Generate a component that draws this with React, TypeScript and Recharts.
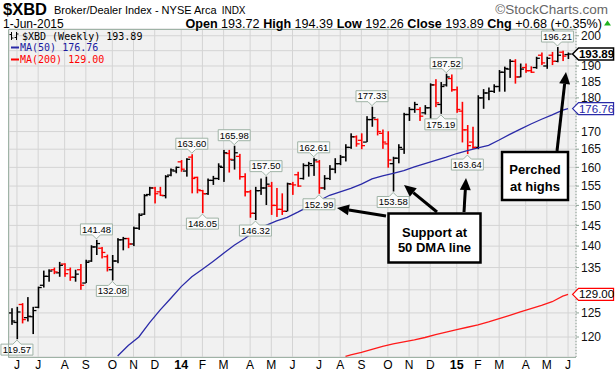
import React from 'react';
import { ComposedChart, Bar, Line, XAxis, YAxis, CartesianGrid } from 'recharts';

// ---- data (weekly bars, index 0 = week of 27-May-2013, last = week of 1-Jun-2015) ----
const opens = [
  125.0, 123.0, 126.8, 124.0, 124.2, 126.2, 131.0, 133.0, 134.5, 133.8,
  135.8, 134.5, 132.8, 134.5, 131.5, 136.5, 139.8, 139.5, 137.5, 134.5,
  136.5, 141.5, 141.8, 140.5, 144.3, 147.8, 152.8, 154.5, 153.5, 152.5,
  157.9, 159.0, 161.5, 159.0, 162.8, 157.3, 153.8, 153.0, 156.5, 157.0,
  160.0, 163.8, 162.0, 163.0, 157.5, 153.5, 148.0, 153.8, 154.5, 155.0,
  150.0, 149.0, 148.5, 155.5, 158.0, 157.0, 160.5, 160.5, 161.5, 154.5,
  157.0, 159.5, 161.0, 162.8, 165.5, 168.5, 167.5, 167.0, 173.5, 173.5,
  169.5, 166.5, 161.0, 162.5, 165.0, 175.0, 176.5, 176.5, 175.5, 177.0,
  184.0, 178.0, 184.0, 186.0, 182.5, 176.0, 170.5, 167.0, 165.5, 180.0,
  181.5, 182.0, 183.5, 188.0, 189.0, 191.5, 186.5, 189.5, 188.5, 189.5,
  193.5, 190.0, 193.5, 191.5, 194.5, 193.72,
];
const highs = [
  126.0, 126.3, 127.1, 128.4, 126.3, 130.7, 134.3, 134.6, 135.0, 136.3,
  136.0, 135.0, 134.5, 135.8, 136.8, 140.2, 141.48, 139.8, 138.0, 137.9,
  141.9, 142.2, 142.0, 144.7, 148.0, 152.9, 154.8, 154.8, 154.8, 157.9,
  159.7, 160.2, 162.0, 162.5, 163.6, 157.5, 154.0, 157.0, 157.7, 161.1,
  164.8, 164.8, 165.98, 163.7, 158.4, 154.0, 154.8, 157.0, 157.5, 156.1,
  154.5, 153.1, 155.9, 156.1, 158.8, 161.1, 161.5, 162.61, 162.0, 157.9,
  160.6, 162.5, 163.4, 166.4, 169.5, 168.9, 169.5, 174.5, 177.33, 173.8,
  170.6, 170.1, 162.9, 166.4, 175.5, 177.2, 178.8, 177.2, 177.8, 184.5,
  185.8, 184.9, 187.52, 187.3, 183.5, 178.8, 171.9, 171.4, 180.8, 182.7,
  183.2, 184.2, 188.7, 189.8, 192.2, 192.2, 190.8, 190.8, 189.9, 193.0,
  194.4, 193.0, 194.6, 196.21, 195.0, 194.39,
];
const lows = [
  122.5, 119.57, 122.8, 123.2, 120.6, 126.0, 130.5, 131.8, 133.5, 132.9,
  132.9, 132.0, 131.8, 130.0, 131.5, 136.3, 137.9, 137.1, 134.1, 132.08,
  136.0, 139.0, 139.5, 140.0, 143.9, 147.6, 152.5, 150.5, 152.4, 151.8,
  157.6, 158.4, 158.8, 157.5, 153.1, 153.1, 148.05, 152.7, 155.3, 156.6,
  156.1, 158.6, 159.4, 156.7, 152.3, 146.9, 146.32, 152.7, 150.1, 147.6,
  147.1, 147.6, 148.5, 152.7, 154.8, 156.7, 157.5, 157.7, 152.99, 154.0,
  156.6, 158.4, 160.6, 161.6, 165.1, 165.7, 165.0, 167.0, 171.4, 168.9,
  165.1, 159.9, 153.58, 161.1, 163.7, 173.1, 175.5, 173.1, 175.0, 173.1,
  177.2, 175.19, 183.5, 181.9, 175.5, 166.9, 163.64, 165.1, 165.0, 176.7,
  179.3, 181.5, 181.9, 181.9, 186.2, 184.4, 186.4, 187.8, 187.8, 189.1,
  190.3, 189.1, 190.3, 191.2, 191.6, 192.26,
];
const closes = [
  123.3, 125.2, 123.6, 124.3, 125.5, 130.5, 133.0, 134.2, 134.0, 135.5,
  133.6, 132.8, 133.5, 131.0, 136.2, 139.8, 140.6, 138.5, 135.0, 136.5,
  141.5, 141.8, 140.5, 144.3, 147.5, 152.5, 154.5, 153.0, 152.6, 157.5,
  159.3, 160.0, 159.5, 162.2, 157.0, 154.0, 153.0, 156.5, 157.0, 160.3,
  164.0, 162.2, 164.0, 157.5, 153.5, 148.0, 153.8, 154.5, 155.5, 150.0,
  149.0, 148.5, 155.6, 155.3, 155.0, 160.5, 161.0, 162.0, 154.5, 157.0,
  159.5, 161.0, 162.8, 165.5, 168.5, 166.5, 166.0, 173.5, 174.0, 170.0,
  167.0, 162.0, 162.5, 165.5, 175.0, 176.5, 178.0, 174.5, 177.0, 184.0,
  178.5, 183.5, 186.5, 182.5, 176.5, 170.5, 166.0, 165.5, 180.0, 181.5,
  182.0, 183.5, 188.0, 189.2, 191.5, 186.5, 189.0, 188.5, 188.0, 192.5,
  191.0, 192.5, 191.5, 193.5, 193.21, 193.89,
];

const monthTicks = [1, 5, 10, 14, 19, 23, 27, 32, 36, 40, 45, 49, 53, 58, 62, 66, 71, 75, 79, 84, 88, 92, 97, 101, 105];
const monthLabels = ['J', 'J', 'A', 'S', 'O', 'N', 'D', '14', 'F', 'M', 'A', 'M', 'J', 'J', 'A', 'S', 'O', 'N', 'D', '15', 'F', 'M', 'A', 'M', 'J'];
const priceTicks = [120, 125, 130, 135, 140, 145, 150, 155, 160, 165, 170, 175, 180, 185, 190, 195, 200];

const highLabelWeeks = [16, 34, 42, 48, 57, 68, 82, 103];
const lowLabelWeeks = [1, 19, 36, 46, 58, 72, 81, 86];

const ma50Weeks = [20, 22, 24, 26, 28, 30, 32, 34, 36, 38, 40, 42, 44, 46, 48, 50, 52, 54, 56, 58, 60, 62, 64, 66, 68, 70, 72, 74, 76, 78, 80, 82, 84, 86, 88, 90, 92, 94, 96, 98, 100, 102, 104, 105];
const ma50Values = [116.2, 118.3, 120.0, 122.9, 125.6, 128.1, 130.7, 132.9, 134.6, 136.4, 138.3, 140.2, 141.8, 143.7, 145.0, 146.1, 147.0, 148.3, 149.7, 151.2, 152.6, 153.5, 154.4, 155.5, 156.9, 157.7, 158.4, 159.1, 160.1, 161.0, 161.9, 162.8, 163.8, 164.6, 165.4, 166.1, 167.6, 169.2, 170.7, 172.2, 173.6, 174.9, 176.3, 176.76];

const ma200Weeks = [63, 64, 66, 68, 70, 72, 74, 76, 78, 80, 82, 84, 86, 88, 90, 92, 94, 96, 98, 100, 102, 104, 105];
const ma200Values = [116.1, 116.4, 116.9, 117.5, 118.1, 118.6, 119.0, 119.4, 119.9, 120.5, 121.0, 121.5, 122.0, 122.5, 123.1, 123.8, 124.5, 125.2, 125.9, 126.6, 127.4, 128.6, 129.0];

const lastIndex = closes.length - 1;
const tagValues = [closes[lastIndex], ma50Values[ma50Values.length - 1], ma200Values[ma200Values.length - 1]];

const data = opens.map((o, i) => ({
  x: i,
  o,
  h: highs[i],
  l: lows[i],
  c: closes[i],
  range: [lows[i], highs[i]],
  up: i === 0 || closes[i] >= closes[i - 1],
  hiLab: highLabelWeeks.includes(i) ? highs[i] : null,
  loLab: lowLabelWeeks.includes(i) ? lows[i] : null,
  ma50: ma50Weeks.includes(i) ? ma50Values[ma50Weeks.indexOf(i)] : null,
  ma200: ma200Weeks.includes(i) ? ma200Values[ma200Weeks.indexOf(i)] : null,
  last: i === lastIndex ? closes[i] : null,
}));

// ---- styles ----
const SANS = '"Liberation Sans", Arial, sans-serif';
const MONO = '"DejaVu Sans Mono", monospace';
const UP = '#000000';
const DOWN = '#ff0000';
const MA50C = '#2a2aa8';
const MA200C = '#ff1a1a';
const LABEL_BORDER = '#9fb3a6';

const OhlcShape = (p: any) => {
  const { x, y, width, height, payload } = p;
  if (x == null || y == null) return <g />;
  const cx = x + width / 2;
  return <rect x={cx - 0.8} y={y} width={1.6} height={Math.max(height, 1)} fill={payload.up ? UP : DOWN} />;
};

const openTick = (p: any) => {
  const { cx, cy, payload, index } = p;
  if (cx == null || cy == null) return <g key={`o${index}`} />;
  return <line key={`o${index}`} x1={cx - 3.6} x2={cx} y1={cy} y2={cy} stroke={payload.up ? UP : DOWN} strokeWidth={1.3} />;
};
const closeTick = (p: any) => {
  const { cx, cy, payload, index } = p;
  if (cx == null || cy == null) return <g key={`c${index}`} />;
  return <line key={`c${index}`} x1={cx} x2={cx + 3.6} y1={cy} y2={cy} stroke={payload.up ? UP : DOWN} strokeWidth={1.3} />;
};

const BW = 32;
const BH = 11;
const hiLabel = (p: any) => {
  const { cx, cy, payload, index } = p;
  if (payload.hiLab == null || cx == null || cy == null) return <g key={`h${index}`} />;
  const tipY = cy - 1;
  const bottom = tipY - 4;
  const top = bottom - BH;
  const d = `M${cx - BW / 2},${top} H${cx + BW / 2} V${bottom} H${cx + 4} L${cx},${tipY} L${cx - 4},${bottom} H${cx - BW / 2} Z`;
  return (
    <g key={`h${index}`}>
      <path d={d} fill="#fbfbfb" stroke={LABEL_BORDER} strokeWidth={1} />
      <text x={cx} y={top + 8.8} textAnchor="middle" fontSize={9.5} fontFamily={SANS} fill="#000">{payload.hiLab.toFixed(2)}</text>
    </g>
  );
};
const loLabel = (p: any) => {
  const { cx, cy, payload, index } = p;
  if (payload.loLab == null || cx == null || cy == null) return <g key={`l${index}`} />;
  const tipY = cy + 1;
  const top = tipY + 4;
  const bottom = top + BH;
  const d = `M${cx - BW / 2},${top} H${cx - 4} L${cx},${tipY} L${cx + 4},${top} H${cx + BW / 2} V${bottom} H${cx - BW / 2} Z`;
  return (
    <g key={`l${index}`}>
      <path d={d} fill="#fbfbfb" stroke={LABEL_BORDER} strokeWidth={1} />
      <text x={cx} y={top + 8.8} textAnchor="middle" fontSize={9.5} fontFamily={SANS} fill="#000">{payload.loLab.toFixed(2)}</text>
    </g>
  );
};

const makeTag = (field: string, border: string, textColor: string, bold: boolean, sw: number) => (p: any) => {
  const { cx, cy, payload, index } = p;
  if (payload[field] == null || index !== lastIndex || cx == null || cy == null) return <g key={`${field}${index}`} />;
  const tip = cx + 4.5;
  const d = `M${tip},${cy} L${tip + 6},${cy - 6} H${tip + 41} V${cy + 6} H${tip + 6} Z`;
  return (
    <g key={`${field}${index}`}>
      <path d={d} fill="#ffffff" stroke={border} strokeWidth={sw} />
      <text x={tip + 24} y={cy + 4} textAnchor="middle" fontSize={11.5} fontWeight={bold ? 'bold' : 'normal'} fontFamily={SANS} fill={textColor}>
        {payload[field].toFixed(2)}
      </text>
    </g>
  );
};
const priceTag = makeTag('last', '#000', '#000', true, 1.5);
const ma50Tag = makeTag('ma50', MA50C, MA50C, false, 1.2);
const ma200Tag = makeTag('ma200', '#ff0000', '#000', false, 1.2);

const XTick = (p: any) => {
  const v = p.payload.value;
  const lab = monthLabels[monthTicks.indexOf(v)];
  const bold = /\d/.test(lab);
  return (
    <text x={p.x} y={p.y + 4} textAnchor="middle" fontSize={bold ? 12.5 : 12} fontWeight={bold ? 'bold' : 'normal'} fontFamily={SANS} fill="#000">
      {lab}
    </text>
  );
};
const YTick = (p: any) => {
  const v = p.payload.value;
  // a value tag sits over this tick label: leave it hidden under the tag
  const covered = tagValues.some((t) => Math.abs(Math.log(v / t)) < 0.012);
  if (covered) return <g />;
  return (
    <text x={p.x} y={p.y + 4.3} textAnchor="start" fontSize={12} fontFamily={SANS} fill="#111">
      {v}
    </text>
  );
};

const Arrow = ({ x1, y1, x2, y2 }: { x1: number; y1: number; x2: number; y2: number }) => {
  const dx = x2 - x1;
  const dy = y2 - y1;
  const len = Math.sqrt(dx * dx + dy * dy);
  const ux = dx / len;
  const uy = dy / len;
  const bx = x2 - ux * 12;
  const by = y2 - uy * 12;
  const nx = -uy;
  const ny = ux;
  return (
    <g>
      <line x1={x1} y1={y1} x2={bx} y2={by} stroke="#000" strokeWidth={3} />
      <polygon points={`${x2},${y2} ${bx + nx * 5.5},${by + ny * 5.5} ${bx - nx * 5.5},${by - ny * 5.5}`} fill="#000" />
    </g>
  );
};

export default function App() {
  return (
    <div style={{ position: 'absolute', left: 0, top: 0, width: 615, height: 375, background: '#fff' }}>
      <ComposedChart width={615} height={375} data={data} margin={{ top: 29, right: 0, bottom: 0, left: 9 }}>
        <CartesianGrid stroke="#d4d4d4" fill="#f1f1f1" />
        <XAxis
          dataKey="x"
          type="number"
          domain={[-0.5, 106.5]}
          ticks={monthTicks}
          interval={0}
          tick={XTick}
          tickLine={false}
          axisLine={false}
          height={18}
        />
        <YAxis
          orientation="right"
          type="number"
          scale="log"
          domain={[116, 202.3]}
          ticks={priceTicks}
          interval={0}
          tick={YTick}
          width={39}
          tickSize={3}
          tickMargin={2}
          tickLine={{ stroke: '#8fa497' }}
          axisLine={{ stroke: '#8fa497', strokeDasharray: '1 2' }}
        />
        <Line dataKey="ma200" stroke={MA200C} strokeWidth={1.3} dot={false} activeDot={false} connectNulls isAnimationActive={false} />
        <Line dataKey="ma50" stroke={MA50C} strokeWidth={1.3} dot={false} activeDot={false} connectNulls isAnimationActive={false} />
        <Bar dataKey="range" shape={OhlcShape} barSize={2} isAnimationActive={false} />
        <Line dataKey="o" stroke="none" dot={openTick} activeDot={false} isAnimationActive={false} />
        <Line dataKey="c" stroke="none" dot={closeTick} activeDot={false} isAnimationActive={false} />
        <Line dataKey="hiLab" stroke="none" dot={hiLabel} activeDot={false} isAnimationActive={false} />
        <Line dataKey="loLab" stroke="none" dot={loLabel} activeDot={false} isAnimationActive={false} />
        <Line dataKey="ma50" stroke="none" dot={ma50Tag} activeDot={false} connectNulls isAnimationActive={false} />
        <Line dataKey="ma200" stroke="none" dot={ma200Tag} activeDot={false} connectNulls isAnimationActive={false} />
        <Line dataKey="last" stroke="none" dot={priceTag} activeDot={false} isAnimationActive={false} />
      </ComposedChart>

      <svg width={615} height={375} style={{ position: 'absolute', left: 0, top: 0, pointerEvents: 'none' }}>
        {/* plot frame */}
        <path d="M576,29.5 H8.5 V357.5 H576" fill="none" stroke="#9fb3a6" strokeWidth={1} />

        {/* header */}
        <text x={3} y={14.5} fontSize={16.5} fontWeight="bold" fontFamily={SANS} fill="#000">$XBD</text>
        <text x={54} y={14} fontSize={11} fontFamily={SANS} fill="#000">
          Broker/Dealer Index - NYSE Arca<tspan dx={5} fontSize={10}>INDX</tspan>
        </text>
        <text x={608} y={13.5} textAnchor="end" fontSize={13.5} fontFamily={SANS} fill="#666">©StockCharts.com</text>
        <text x={3} y={27.5} fontSize={12} fontFamily={SANS} fill="#000">1-Jun-2015</text>
        <text x={602} y={27.5} textAnchor="end" fontSize={12.6} fontFamily={SANS} fill="#000">
          <tspan fontWeight="bold">Open</tspan> 193.72 <tspan fontWeight="bold">High</tspan> 194.39 <tspan fontWeight="bold">Low</tspan> 192.26{' '}
          <tspan fontWeight="bold">Close</tspan> 193.89 <tspan fontWeight="bold">Chg</tspan> +0.68 (+0.35%)
        </text>
        <polygon points="604,25.5 611,25.5 607.5,20.5" fill="#1fb31f" />

        {/* legend */}
        <g stroke="#000" strokeWidth={1}>
          <line x1={11.5} y1={32} x2={11.5} y2={40} />
          <line x1={9.5} y1={34.5} x2={11.5} y2={34.5} />
          <line x1={11.5} y1={38} x2={13.5} y2={38} />
          <line x1={16.5} y1={32} x2={16.5} y2={40} />
          <line x1={14.5} y1={37.5} x2={16.5} y2={37.5} />
          <line x1={16.5} y1={34} x2={18.5} y2={34} />
        </g>
        <text x={22} y={40} fontSize={10} fontFamily={MONO} fill="#000">$XBD (Weekly) 193.89</text>
        <line x1={11} y1={47.5} x2={19} y2={47.5} stroke={MA50C} strokeWidth={2} />
        <text x={20} y={51} fontSize={10} fontFamily={MONO} fill="#1a1aa0">MA(50) 176.76</text>
        <line x1={11} y1={59.5} x2={19} y2={59.5} stroke="#ff0000" strokeWidth={2} />
        <text x={20} y={63} fontSize={10} fontFamily={MONO} fill="#ff0000">MA(200) 129.00</text>

        {/* annotation boxes */}
        <rect x={388.5} y={213.5} width={92} height={49} fill="#fff" stroke="#000" strokeWidth={2.5} />
        <text x={434.5} y={236.5} textAnchor="middle" fontSize={13} fontWeight="bold" fontFamily={SANS} fill="#000">Support at</text>
        <text x={434.5} y={251.5} textAnchor="middle" fontSize={13} fontWeight="bold" fontFamily={SANS} fill="#000">50 DMA line</text>
        <rect x={502} y={152} width={66} height={48} fill="#fff" stroke="#000" strokeWidth={2.5} />
        <text x={535} y={174} textAnchor="middle" fontSize={13} fontWeight="bold" fontFamily={SANS} fill="#000">Perched</text>
        <text x={535} y={190.5} textAnchor="middle" fontSize={13} fontWeight="bold" fontFamily={SANS} fill="#000">at highs</text>

        {/* arrows */}
        <Arrow x1={386} y1={216} x2={337} y2={208} />
        <Arrow x1={437} y1={212} x2={404} y2={185} />
        <Arrow x1={464} y1={212} x2={466} y2={178} />
        <Arrow x1={557} y1={151} x2={566} y2={72} />
      </svg>
    </div>
  );
}
